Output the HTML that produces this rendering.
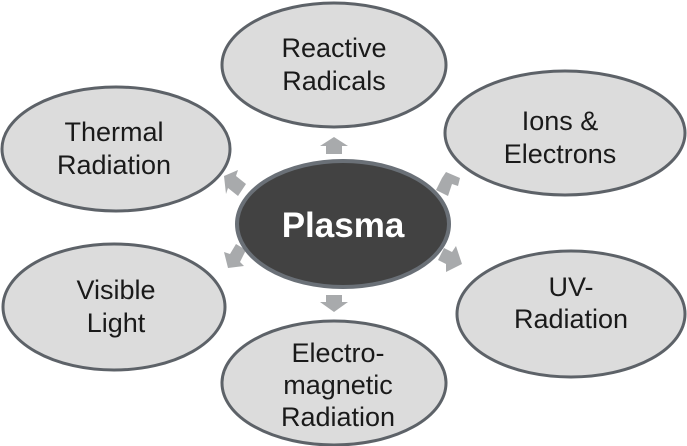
<!DOCTYPE html>
<html><head><meta charset="utf-8"><style>html,body{margin:0;padding:0;background:#fff}svg{display:block}</style></head>
<body>
<svg width="687" height="446" viewBox="0 0 687 446" xmlns="http://www.w3.org/2000/svg" font-family="Liberation Sans, Arial, sans-serif">
<g fill="#dcdcdc" stroke="#5d6268" stroke-width="3">
<ellipse cx="334" cy="65" rx="112" ry="62"/>
<ellipse cx="565" cy="133" rx="120" ry="62"/>
<ellipse cx="116" cy="149" rx="114" ry="62"/>
<ellipse cx="114" cy="307" rx="111" ry="63"/>
<ellipse cx="571" cy="314" rx="114" ry="63"/>
<ellipse cx="334" cy="383" rx="112" ry="62"/>
</g>
<g fill="#a8aaac">
<polygon points="334,137 348,146 342,146 342,154 326,154 326,146 320,146"/>
<polygon points="334,312 348,302 342,302 342,295 326,295 326,302 320,302"/>
<polygon points="224,176 238,170 236,176 246,184 238,196 228,188 226,194"/>
<polygon points="446,172 460,178 458,186 452,184 448,196 436,190 442,178"/>
<polygon points="228,268 224,252 230,254 236,244 246,250 240,262 244,266"/>
<polygon points="462,264 446,272 446,264 438,260 444,248 452,252 456,246"/>
</g>
<ellipse cx="343" cy="224" rx="106" ry="63" fill="#424242" stroke="#6a7077" stroke-width="4"/>
<text x="343" y="237" text-anchor="middle" fill="#fff" font-weight="bold" font-size="35">Plasma</text>
<g fill="#1a1a1a" font-size="27" text-anchor="middle">
<text x="334" y="57">Reactive</text><text x="334" y="90">Radicals</text>
<text x="560" y="130">Ions &amp;</text><text x="560" y="163">Electrons</text>
<text x="114" y="141">Thermal</text><text x="114" y="174">Radiation</text>
<text x="116" y="299">Visible</text><text x="116" y="332">Light</text>
<text x="571" y="296">UV-</text><text x="571" y="328">Radiation</text>
<text x="338" y="362">Electro-</text><text x="338" y="394">magnetic</text><text x="338" y="426">Radiation</text>
</g>
</svg>
</body></html>
